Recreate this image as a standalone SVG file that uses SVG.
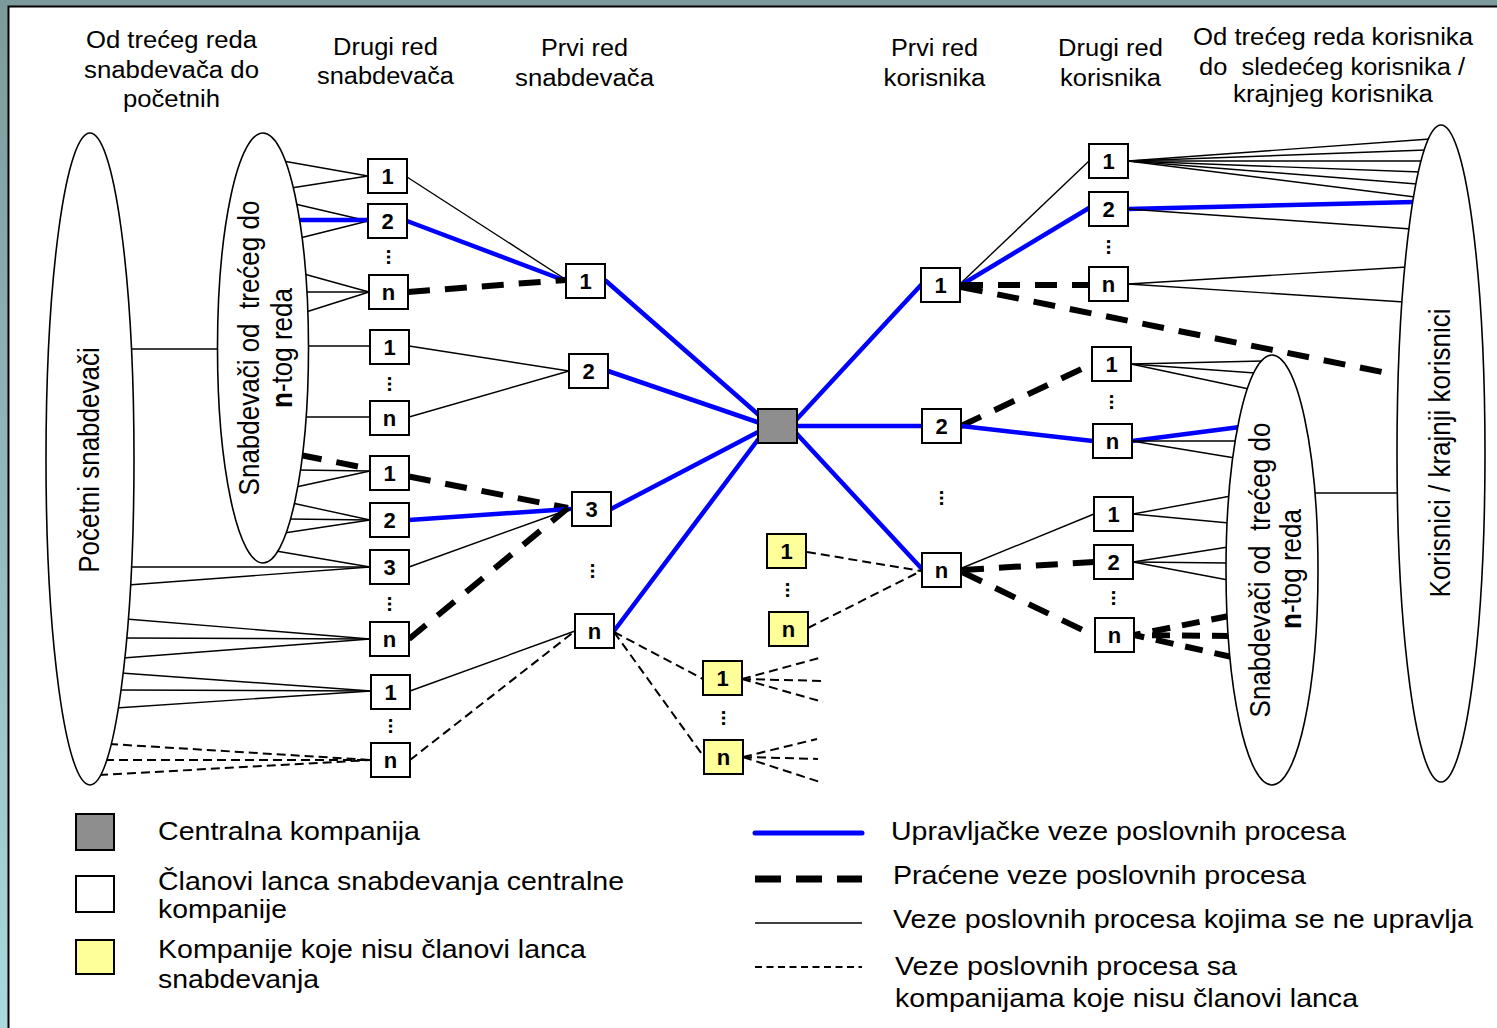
<svg xmlns="http://www.w3.org/2000/svg" width="1497" height="1028" viewBox="0 0 1497 1028">
<defs>
<linearGradient id="bg" x1="0" y1="0" x2="0" y2="1">
<stop offset="0" stop-color="#7c9a9c"/>
<stop offset="1" stop-color="#abd9dd"/>
</linearGradient>
<style>
text{font-family:"Liberation Sans",Arial,sans-serif;fill:#000}
.hdr{font-size:23px;text-anchor:middle}
.rot{font-size:26px;text-anchor:middle}
.leg{font-size:25px}
.num{font-size:22px;font-weight:bold;text-anchor:middle}
.dots{font-size:20px;font-weight:bold;text-anchor:middle}
.box{fill:#fff;stroke:#000;stroke-width:2}
.cen{fill:#8e8e8e;stroke:#000;stroke-width:2}
.yel{fill:#ffff99;stroke:#000;stroke-width:2}
.ell{fill:#fff;stroke:#000;stroke-width:1.6}
.thin{stroke:#000;stroke-width:1.4;fill:none}
.blue{stroke:#0000ff;stroke-width:4.5;fill:none;stroke-linecap:round}
.tdash{stroke:#000;stroke-width:6;stroke-dasharray:22 15;fill:none}
.ddash{stroke:#000;stroke-width:2;stroke-dasharray:9 5;fill:none}
</style>
</defs>
<rect width="1497" height="1028" fill="url(#bg)"/>
<rect x="8" y="6" width="1489" height="1022" fill="#fff"/>
<path d="M8.5,1028 V6.5 H1497" fill="none" stroke="#000" stroke-width="2"/>

<g id="headers">
<text class="hdr" x="171.5" y="48" textLength="171" lengthAdjust="spacingAndGlyphs">Od trećeg reda</text>
<text class="hdr" x="171.5" y="78" textLength="175" lengthAdjust="spacingAndGlyphs">snabdevača do</text>
<text class="hdr" x="171.5" y="107" textLength="97" lengthAdjust="spacingAndGlyphs">početnih</text>
<text class="hdr" x="385.5" y="55" textLength="105" lengthAdjust="spacingAndGlyphs">Drugi red</text>
<text class="hdr" x="385.5" y="84" textLength="137" lengthAdjust="spacingAndGlyphs">snabdevača</text>
<text class="hdr" x="584.5" y="56" textLength="87" lengthAdjust="spacingAndGlyphs">Prvi red</text>
<text class="hdr" x="584.5" y="86" textLength="139" lengthAdjust="spacingAndGlyphs">snabdevača</text>
<text class="hdr" x="934.5" y="56" textLength="87" lengthAdjust="spacingAndGlyphs">Prvi red</text>
<text class="hdr" x="934.5" y="86" textLength="102" lengthAdjust="spacingAndGlyphs">korisnika</text>
<text class="hdr" x="1110.5" y="56" textLength="105" lengthAdjust="spacingAndGlyphs">Drugi red</text>
<text class="hdr" x="1110.5" y="86" textLength="101" lengthAdjust="spacingAndGlyphs">korisnika</text>
<text class="hdr" x="1333" y="45" textLength="280" lengthAdjust="spacingAndGlyphs">Od trećeg reda korisnika</text>
<text class="hdr" x="1332" y="75" textLength="266" lengthAdjust="spacingAndGlyphs" style="white-space:pre">do  sledećeg korisnika /</text>
<text class="hdr" x="1333" y="102" textLength="200" lengthAdjust="spacingAndGlyphs">krajnjeg korisnika</text>
</g>

<g id="connectors">
<line class="thin" x1="131" y1="349" x2="219" y2="349"/>
<line class="thin" x1="1313" y1="493" x2="1399" y2="493"/>
<line class="thin" x1="283" y1="161" x2="368" y2="176"/>
<line class="thin" x1="291" y1="188" x2="368" y2="176"/>
<line class="thin" x1="295" y1="204" x2="368" y2="221"/>
<line class="thin" x1="300" y1="238" x2="368" y2="221"/>
<line class="blue" x1="298" y1="220" x2="368" y2="220"/>
<line class="thin" x1="304" y1="274" x2="369" y2="292"/>
<line class="thin" x1="305" y1="292" x2="369" y2="292"/>
<line class="thin" x1="306" y1="312" x2="369" y2="292"/>
<line class="thin" x1="306" y1="346" x2="370" y2="346"/>
<line class="thin" x1="304" y1="417" x2="370" y2="417"/>
<line class="thin" x1="298" y1="470" x2="370" y2="471"/>
<line class="thin" x1="296" y1="487" x2="370" y2="471"/>
<line class="thin" x1="292" y1="503" x2="370" y2="520"/>
<line class="thin" x1="289" y1="519" x2="370" y2="520"/>
<line class="thin" x1="284" y1="533" x2="370" y2="520"/>
<line class="thin" x1="276" y1="551" x2="370" y2="567"/>
<line class="thin" x1="129" y1="567" x2="370" y2="567"/>
<line class="thin" x1="128" y1="585" x2="370" y2="567"/>
<line class="thin" x1="126" y1="619" x2="370" y2="639"/>
<line class="thin" x1="125" y1="638" x2="370" y2="639"/>
<line class="thin" x1="123" y1="658" x2="370" y2="639"/>
<line class="thin" x1="121" y1="673" x2="371" y2="691"/>
<line class="thin" x1="119" y1="690" x2="371" y2="691"/>
<line class="thin" x1="116" y1="708" x2="371" y2="691"/>
<line class="ddash" x1="109" y1="744" x2="371" y2="760"/>
<line class="ddash" x1="105" y1="760" x2="371" y2="760"/>
<line class="ddash" x1="99" y1="775" x2="371" y2="760"/>
<line class="tdash" x1="300" y1="455" x2="568" y2="508"/>
<line class="thin" x1="407" y1="177" x2="565" y2="279"/>
<line class="blue" x1="407" y1="221" x2="566" y2="281"/>
<line class="tdash" x1="408" y1="292" x2="566" y2="280"/>
<line class="thin" x1="409" y1="346" x2="569" y2="371"/>
<line class="thin" x1="409" y1="417" x2="569" y2="371"/>
<line class="blue" x1="409" y1="520" x2="570" y2="509"/>
<line class="thin" x1="409" y1="567" x2="570" y2="509"/>
<line class="tdash" x1="409" y1="639" x2="568" y2="508"/>
<line class="thin" x1="410" y1="691" x2="575" y2="631"/>
<line class="ddash" x1="410" y1="760" x2="575" y2="631"/>
<line class="blue" x1="606" y1="281" x2="760" y2="416"/>
<line class="blue" x1="608" y1="371" x2="760" y2="423"/>
<line class="blue" x1="611" y1="509" x2="760" y2="431"/>
<line class="blue" x1="614" y1="631" x2="760" y2="437"/>
<line class="blue" x1="796" y1="420" x2="921" y2="285"/>
<line class="blue" x1="797" y1="426" x2="922" y2="426"/>
<line class="blue" x1="796" y1="433" x2="922" y2="569"/>
<line class="ddash" x1="807" y1="552" x2="921" y2="571"/>
<line class="ddash" x1="808" y1="628" x2="921" y2="571"/>
<line class="ddash" x1="614" y1="632" x2="703" y2="679"/>
<line class="ddash" x1="614" y1="632" x2="704" y2="757"/>
<line class="ddash" x1="742" y1="679" x2="823" y2="657"/>
<line class="ddash" x1="742" y1="679" x2="825" y2="681"/>
<line class="ddash" x1="742" y1="679" x2="823" y2="702"/>
<line class="ddash" x1="743" y1="757" x2="817" y2="739"/>
<line class="ddash" x1="743" y1="757" x2="818" y2="759"/>
<line class="ddash" x1="743" y1="757" x2="823" y2="783"/>
<line class="thin" x1="961" y1="283" x2="1089" y2="161"/>
<line class="blue" x1="961" y1="285" x2="1089" y2="208"/>
<line class="tdash" x1="961" y1="285" x2="1089" y2="285"/>
<line class="tdash" x1="961" y1="287" x2="1382" y2="372"/>
<line class="thin" x1="1128" y1="161" x2="1430" y2="139"/>
<line class="thin" x1="1128" y1="161" x2="1426" y2="150"/>
<line class="thin" x1="1128" y1="161" x2="1423" y2="161"/>
<line class="thin" x1="1128" y1="161" x2="1420" y2="172"/>
<line class="thin" x1="1128" y1="161" x2="1417" y2="184"/>
<line class="thin" x1="1128" y1="161" x2="1415" y2="197"/>
<line class="blue" x1="1128" y1="209" x2="1414" y2="202"/>
<line class="thin" x1="1128" y1="209" x2="1411" y2="229"/>
<line class="thin" x1="1128" y1="284" x2="1407" y2="267"/>
<line class="thin" x1="1128" y1="284" x2="1404" y2="302"/>
<line class="tdash" x1="961" y1="426" x2="1092" y2="364"/>
<line class="blue" x1="961" y1="426" x2="1093" y2="441"/>
<line class="thin" x1="1131" y1="364" x2="1263" y2="361"/>
<line class="thin" x1="1131" y1="364" x2="1255" y2="373"/>
<line class="thin" x1="1131" y1="364" x2="1249" y2="389"/>
<line class="blue" x1="1132" y1="441" x2="1240" y2="427"/>
<line class="thin" x1="1132" y1="441" x2="1237" y2="441"/>
<line class="thin" x1="1132" y1="441" x2="1235" y2="458"/>
<line class="thin" x1="962" y1="568" x2="1094" y2="514"/>
<line class="tdash" x1="962" y1="570" x2="1094" y2="562"/>
<line class="tdash" x1="962" y1="572" x2="1095" y2="636"/>
<line class="thin" x1="1133" y1="514" x2="1231" y2="496"/>
<line class="thin" x1="1133" y1="514" x2="1229" y2="523"/>
<line class="thin" x1="1133" y1="562" x2="1228" y2="547"/>
<line class="thin" x1="1133" y1="562" x2="1228" y2="563"/>
<line class="thin" x1="1133" y1="562" x2="1228" y2="580"/>
<line class="tdash" x1="1229" y1="616" x2="1134" y2="635" style="stroke-dasharray:18 12"/>
<line class="tdash" x1="1230" y1="636" x2="1134" y2="635" style="stroke-dasharray:18 12"/>
<line class="tdash" x1="1232" y1="657" x2="1134" y2="635" style="stroke-dasharray:18 12"/>
</g>

<g id="e-pocetni">
<ellipse class="ell" cx="90" cy="459" rx="44" ry="326"/>
<text class="rot" transform="translate(99,460) scale(1.1,1) rotate(-90)">Početni snabdevači</text>
</g>
<g id="e-snabdevaci-left">
<ellipse class="ell" cx="263" cy="348" rx="45.5" ry="215"/>
<text class="rot" transform="translate(259,348) scale(1.1,1) rotate(-90)" style="white-space:pre">Snabdevači od  trećeg do</text>
<text class="rot" transform="translate(292,348) scale(1.1,1) rotate(-90)"><tspan font-weight="bold">n</tspan>-tog reda</text>
</g>
<g id="e-korisnici">
<ellipse class="ell" cx="1441" cy="453.5" rx="44" ry="328.5"/>
<text class="rot" transform="translate(1450,453) scale(1.1,1) rotate(-90)">Korisnici / krajnji korisnici</text>
</g>
<g id="e-snabdevaci-right">
<ellipse class="ell" cx="1272" cy="570" rx="46" ry="215"/>
<text class="rot" transform="translate(1270,570) scale(1.1,1) rotate(-90)" style="white-space:pre">Snabdevači od  trećeg do</text>
<text class="rot" transform="translate(1301,569) scale(1.1,1) rotate(-90)"><tspan font-weight="bold">n</tspan>-tog reda</text>
</g>

<g id="s2-1a"><rect class="box" x="368" y="159" width="39" height="34"/><text class="num" x="387.5" y="184">1</text></g>
<g id="s2-2a"><rect class="box" x="368" y="204" width="39" height="34"/><text class="num" x="387.5" y="229">2</text></g>
<g id="s2-na"><rect class="box" x="369" y="275" width="39" height="34"/><text class="num" x="388.5" y="300">n</text></g>
<g id="s2-1b"><rect class="box" x="370" y="330" width="39" height="34"/><text class="num" x="389.5" y="355">1</text></g>
<g id="s2-nb"><rect class="box" x="370" y="401" width="39" height="34"/><text class="num" x="389.5" y="426">n</text></g>
<g id="s2-1c"><rect class="box" x="370" y="456" width="39" height="34"/><text class="num" x="389.5" y="481">1</text></g>
<g id="s2-2c"><rect class="box" x="370" y="503" width="39" height="34"/><text class="num" x="389.5" y="528">2</text></g>
<g id="s2-3c"><rect class="box" x="370" y="550" width="39" height="34"/><text class="num" x="389.5" y="575">3</text></g>
<g id="s2-nc"><rect class="box" x="370" y="622" width="39" height="34"/><text class="num" x="389.5" y="647">n</text></g>
<g id="s2-1d"><rect class="box" x="371" y="675" width="39" height="34"/><text class="num" x="390.5" y="700">1</text></g>
<g id="s2-nd"><rect class="box" x="371" y="743" width="39" height="34"/><text class="num" x="390.5" y="768">n</text></g>

<g id="s1-1"><rect class="box" x="566" y="264" width="39" height="34"/><text class="num" x="585.5" y="289">1</text></g>
<g id="s1-2"><rect class="box" x="569" y="354" width="39" height="34"/><text class="num" x="588.5" y="379">2</text></g>
<g id="s1-3"><rect class="box" x="572" y="492" width="39" height="34"/><text class="num" x="591.5" y="517">3</text></g>
<g id="s1-n"><rect class="box" x="575" y="614" width="39" height="34"/><text class="num" x="594.5" y="639">n</text></g>

<g id="central"><rect class="cen" x="758" y="409" width="39" height="34"/></g>

<g id="y-1m"><rect class="yel" x="767" y="534" width="39" height="34"/><text class="num" x="786.5" y="559">1</text></g>
<g id="y-nm"><rect class="yel" x="769" y="612" width="39" height="34"/><text class="num" x="788.5" y="637">n</text></g>
<g id="y-1l"><rect class="yel" x="703" y="661" width="39" height="34"/><text class="num" x="722.5" y="686">1</text></g>
<g id="y-nl"><rect class="yel" x="704" y="740" width="39" height="34"/><text class="num" x="723.5" y="765">n</text></g>

<g id="k1-1"><rect class="box" x="921" y="268" width="39" height="34"/><text class="num" x="940.5" y="293">1</text></g>
<g id="k1-2"><rect class="box" x="922" y="409" width="39" height="34"/><text class="num" x="941.5" y="434">2</text></g>
<g id="k1-n"><rect class="box" x="922" y="553" width="39" height="34"/><text class="num" x="941.5" y="578">n</text></g>

<g id="k2-1a"><rect class="box" x="1089" y="144" width="39" height="34"/><text class="num" x="1108.5" y="169">1</text></g>
<g id="k2-2a"><rect class="box" x="1089" y="192" width="39" height="34"/><text class="num" x="1108.5" y="217">2</text></g>
<g id="k2-na"><rect class="box" x="1089" y="267" width="39" height="34"/><text class="num" x="1108.5" y="292">n</text></g>
<g id="k2-1b"><rect class="box" x="1092" y="347" width="39" height="34"/><text class="num" x="1111.5" y="372">1</text></g>
<g id="k2-nb"><rect class="box" x="1093" y="424" width="39" height="34"/><text class="num" x="1112.5" y="449">n</text></g>
<g id="k2-1c"><rect class="box" x="1094" y="497" width="39" height="34"/><text class="num" x="1113.5" y="522">1</text></g>
<g id="k2-2c"><rect class="box" x="1094" y="545" width="39" height="34"/><text class="num" x="1113.5" y="570">2</text></g>
<g id="k2-nc"><rect class="box" x="1095" y="618" width="39" height="34"/><text class="num" x="1114.5" y="643">n</text></g>

<g id="ellipsis-dots">
<text class="dots" transform="translate(386.5,257) rotate(90)">...</text>
<text class="dots" transform="translate(387.5,384) rotate(90)">...</text>
<text class="dots" transform="translate(387.5,604) rotate(90)">...</text>
<text class="dots" transform="translate(388.5,726) rotate(90)">...</text>
<text class="dots" transform="translate(590.5,571) rotate(90)">...</text>
<text class="dots" transform="translate(785.5,590) rotate(90)">...</text>
<text class="dots" transform="translate(721.5,718) rotate(90)">...</text>
<text class="dots" transform="translate(939.5,498) rotate(90)">...</text>
<text class="dots" transform="translate(1106.5,247) rotate(90)">...</text>
<text class="dots" transform="translate(1109.5,402) rotate(90)">...</text>
<text class="dots" transform="translate(1111.5,598) rotate(90)">...</text>
</g>

<g id="legend">
<rect class="cen" x="76" y="814" width="38" height="36"/>
<rect class="box" x="76" y="876" width="38" height="36"/>
<rect class="yel" x="76" y="940" width="38" height="34"/>
<text class="leg" x="158" y="840" textLength="262" lengthAdjust="spacingAndGlyphs">Centralna kompanija</text>
<text class="leg" x="158" y="890" textLength="466" lengthAdjust="spacingAndGlyphs">Članovi lanca snabdevanja centralne</text>
<text class="leg" x="158" y="918" textLength="129" lengthAdjust="spacingAndGlyphs">kompanije</text>
<text class="leg" x="158" y="958" textLength="428" lengthAdjust="spacingAndGlyphs">Kompanije koje nisu članovi lanca</text>
<text class="leg" x="158" y="988" textLength="161" lengthAdjust="spacingAndGlyphs">snabdevanja</text>
<line x1="755" y1="833" x2="862" y2="833" stroke="#0000ff" stroke-width="5" stroke-linecap="round"/>
<line x1="755" y1="879" x2="862" y2="879" stroke="#000" stroke-width="7" stroke-dasharray="26 15"/>
<line x1="755" y1="923" x2="862" y2="923" stroke="#000" stroke-width="1.5"/>
<line x1="755" y1="967" x2="862" y2="967" stroke="#000" stroke-width="2" stroke-dasharray="7 4.5"/>
<text class="leg" x="891" y="840" textLength="455" lengthAdjust="spacingAndGlyphs">Upravljačke veze poslovnih procesa</text>
<text class="leg" x="893" y="884" textLength="413" lengthAdjust="spacingAndGlyphs">Praćene veze poslovnih procesa</text>
<text class="leg" x="893" y="928" textLength="580" lengthAdjust="spacingAndGlyphs">Veze poslovnih procesa kojima se ne upravlja</text>
<text class="leg" x="895" y="975" textLength="342" lengthAdjust="spacingAndGlyphs">Veze poslovnih procesa sa</text>
<text class="leg" x="895" y="1007" textLength="463" lengthAdjust="spacingAndGlyphs">kompanijama koje nisu članovi lanca</text>
</g>
</svg>
